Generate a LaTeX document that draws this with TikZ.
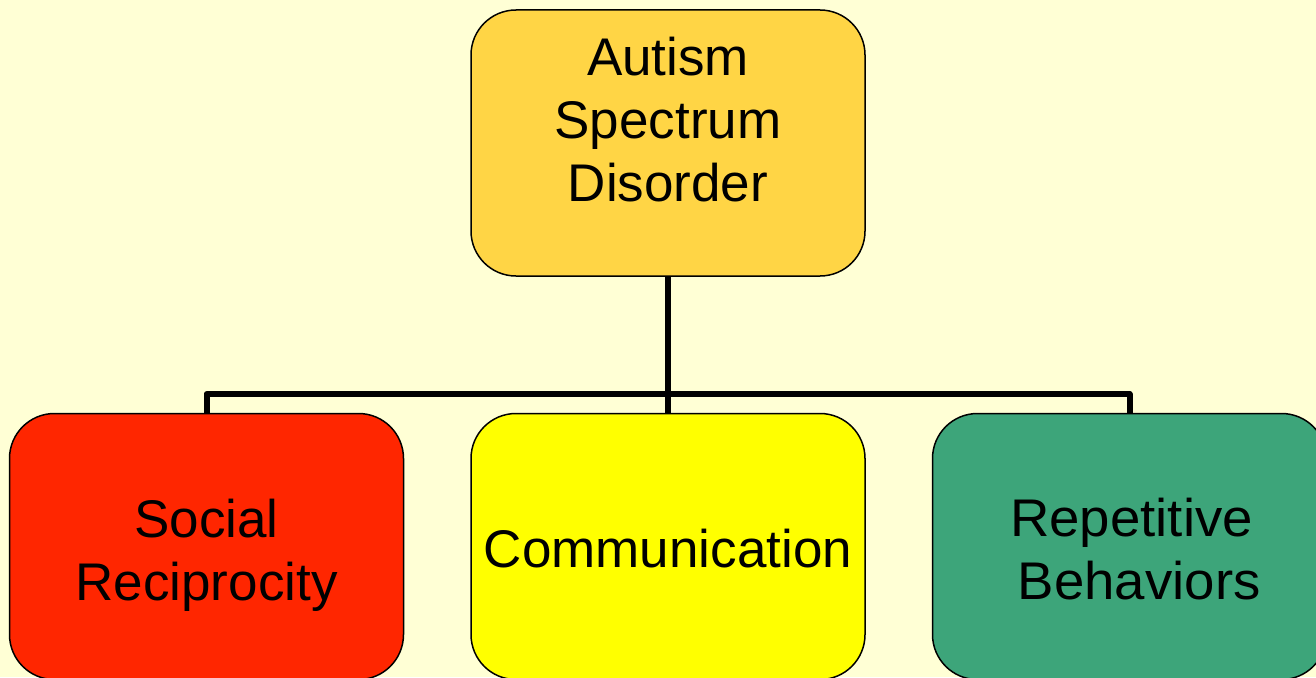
\documentclass[tikz,border=0pt]{standalone}
\usepackage{fontspec}
\setmainfont{Liberation Sans}
\usepackage{tikz}
\usetikzlibrary{positioning}
\definecolor{paper}{RGB}{255,255,213}
\definecolor{topfill}{RGB}{255,213,69}
\definecolor{socialred}{RGB}{255,38,0}
\definecolor{commyellow}{RGB}{255,255,0}
\definecolor{behavgreen}{RGB}{61,165,122}
\tikzstyle{box} = [rectangle, rounded corners=45pt, draw=black, line width=1.5pt, minimum width=394pt, minimum height=266pt, inner sep=0pt]
\tikzstyle{boxtext} = [align=center, font=\fontsize{53}{63}\selectfont, inner sep=0pt]
\tikzstyle{tree} = [line width=6pt, line join=round]

\begin{document}
\begin{tikzpicture}[x=1pt, y=-1pt]

  \useasboundingbox (0,0) rectangle (1316,677);
  \fill[paper] (0,0) rectangle (1316,677);

  % Nodes
  \node (asd) [box, fill=topfill] at (668,143) {};
  \node (comm) [box, fill=commyellow, below=136pt of asd] {};
  \node (social) [box, fill=socialred, left=66pt of comm] {};
  \node (behav) [box, fill=behavgreen, right=66pt of comm] {};
  \coordinate (bar) at (668,394);

  % Lines
  \draw[tree] (asd.south) -- (comm.north);
  \draw[tree] (social.north) |- (bar) -| (behav.north);

  % Texts
  \node (asdtext) [boxtext] at ([yshift=23pt]asd.center) {Autism\\Spectrum\\Disorder};
  \node (commtext) [boxtext] at ([yshift=-2.5pt]comm.center) {Communication};
  \node (socialtext) [boxtext] at ([yshift=-9pt]social.center) {Social\\Reciprocity};
  \node (behavtext) [boxtext, xscale=1.03] at ([xshift=2pt, yshift=-3pt]behav.center)
    {Repetitive\\\hspace*{15pt}Behaviors};

\end{tikzpicture}
\end{document}
